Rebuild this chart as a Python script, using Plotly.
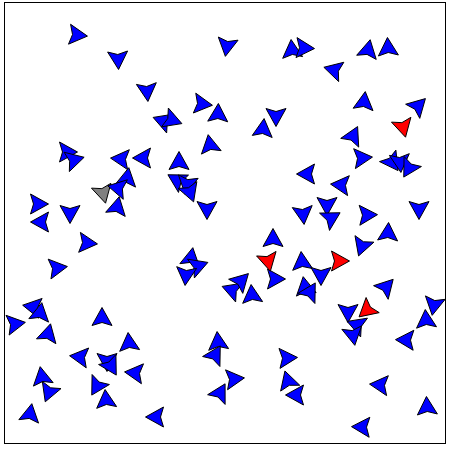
import numpy as np
import plotly.graph_objects as go

# Boid positions (data units), headings (degrees, counter-clockwise from +x), and type
x = [72, 113, 142, 222, 287, 299, 197, 213, 158, 167, 271, 258, 205, 363, 383, 329,
     359, 413, 398, 348, 62, 69, 116, 138, 122, 98, 113, 112, 33, 65, 36, 82, 52,
     174, 172, 182, 185, 202, 268, 263, 270, 186, 193, 181, 227, 236, 247, 357, 387,
     395, 404, 302, 336, 414, 298, 322, 326, 362, 383, 297, 357, 334, 316, 300, 305,
     381, 28, 35, 10, 43, 97, 124, 75, 102, 106, 130, 37, 44, 92, 101, 25, 213, 210,
     282, 229, 215, 283, 291, 151, 343, 362, 352, 348, 421, 429, 401, 375, 422, 357]
y = [408, 384, 352, 397, 393, 395, 339, 329, 322, 323, 327, 314, 298, 393, 395, 373,
     341, 337, 316, 307, 291, 283, 284, 285, 265, 250, 255, 236, 239, 230, 221, 200, 175,
     281, 263, 259, 251, 234, 204, 182, 164, 185, 177, 168, 153, 162, 148, 285, 281,
     281, 275, 269, 258, 234, 229, 238, 225, 228, 210, 181, 197, 182, 168, 156, 151,
     156, 136, 130, 119, 109, 125, 100, 86, 82, 77, 70, 66, 51, 57, 43, 29, 101, 88,
     85, 64, 50, 62, 48, 26, 131, 133, 118, 108, 123, 138, 103, 58, 36, 16]
heading = [-6, -87, -85, -99, 95, -3, -7, 88, 160, -20, -90, 84, 100, 78, 93, 165,
           83, 45, -76, 64, 0, 15, 175, 180, 80, -76, 168, 78, 0, -90, 180, -5, 8,
           90, 150, -100, -70, -90, 90, -77, 0, 80, 20, -95, 160, 45, 95, 5, -55,
           -85, -120, 180, 175, -90, -84, -90, 30, 2, 87, 95, -109, 0, -90, 100, 60,
           47, 170, 80, 9, 76, 90, 95, 173, -90, -60, 174, 100, -111, -120, 95, 80, 95, 60,
           3, 6, 61, 107, 180, 180, -90, -139, 160, -80, 94, -100, 178, 175, 93, 178]
kind = ["b"] * len(x)
for idx, k in [(18, "r"), (25, "g"), (39, "r"), (61, "r"), (90, "r")]:
    kind[idx] = k

COLORS = {"b": "#0000ff", "r": "#ff0000", "g": "#808080"}
SHAPE = np.array([[10.5, 0], [-7.5, 10], [-4.5, 0], [-7.5, -10], [10.5, 0]])

fig = go.Figure()
order = sorted(range(len(x)), key=lambda i: {"g": 0, "b": 1, "r": 2}[kind[i]])
for i in order:
    t = np.radians(heading[i])
    c, s = np.cos(t), np.sin(t)
    px = x[i] + SHAPE[:, 0] * c - SHAPE[:, 1] * s
    py = y[i] + SHAPE[:, 0] * s + SHAPE[:, 1] * c
    fig.add_trace(go.Scatter(
        x=px, y=py, mode="lines", fill="toself",
        fillcolor=COLORS[kind[i]],
        line=dict(color="black", width=1),
        hoverinfo="skip", showlegend=False))

axis = dict(range=[0, 440], showgrid=False, zeroline=False, showticklabels=False,
            ticks="", showline=True, mirror=True, linecolor="black", linewidth=1)
fig.update_layout(
    width=452, height=450,
    margin=dict(l=5, r=7, t=3, b=7),
    paper_bgcolor="white", plot_bgcolor="white",
    xaxis=axis, yaxis=axis,
)
fig.write_html("out.html")
